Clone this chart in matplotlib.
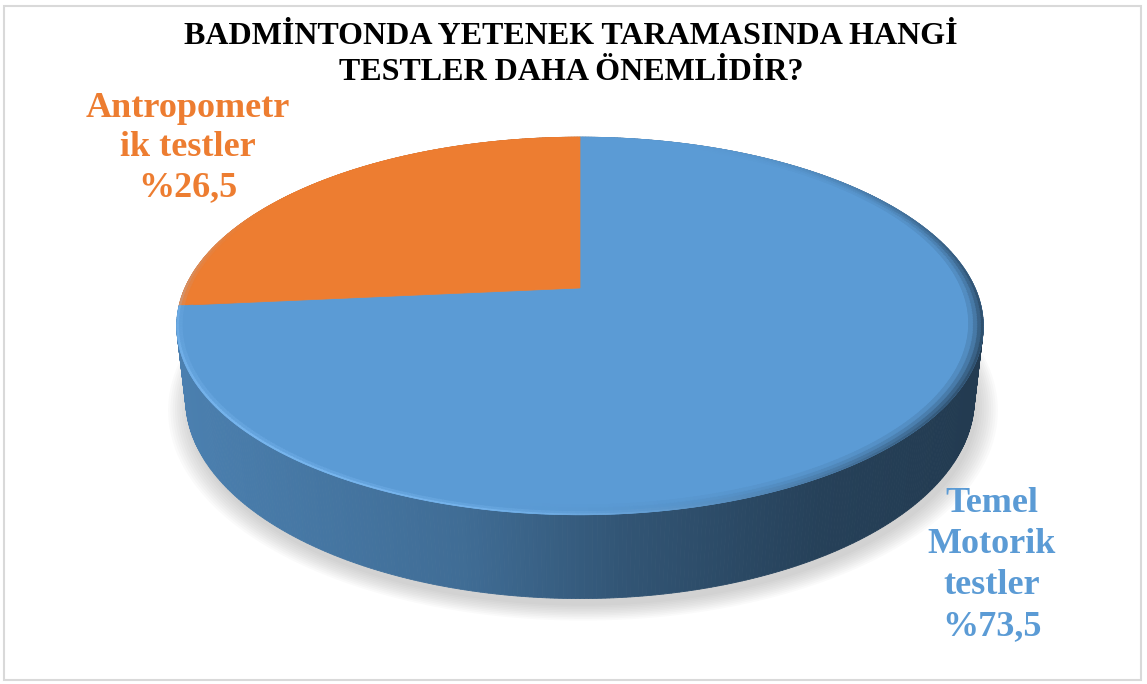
import numpy as np
import matplotlib
matplotlib.use("Agg")
import matplotlib.pyplot as plt
from matplotlib.patches import Polygon, Rectangle
from matplotlib.colors import to_rgb

# ---------------------------------------------------------------------------
# data
# ---------------------------------------------------------------------------
TITLE = "BADMİNTONDA YETENEK TARAMASINDA HANGİ\nTESTLER DAHA ÖNEMLİDİR?"
CATEGORIES = ["Temel Motorik testler", "Antropometrik testler"]
SHARES = [73.5, 26.5]
LABELS = ["Temel\nMotorik\ntestler\n%73,5", "Antropometr\nik testler\n%26,5"]
COLORS = ["#5B9BD5", "#ED7D31"]

# ---------------------------------------------------------------------------
# layout of the 3-D pie (pixel space, perspective camera)
# ---------------------------------------------------------------------------
W, H = 1147, 684
CX, CY = 580, 288
TILT = np.radians(27.3)
DIST = 4.42
FOCAL = 1746
DEPTH = 0.21
C, S = np.cos(TILT), np.sin(TILT)


def project(theta, r=1.0, y=0.0):
    x3 = r * np.cos(theta)
    z3 = -r * np.sin(theta)
    v = y * C - z3 * S
    w = DIST - (z3 * C + y * S)
    return CX + FOCAL * x3 / w, CY - FOCAL * v / w


def shade(col, k):
    return tuple(np.clip(np.array(to_rgb(col)) * k, 0, 1))


def mix(col, other, t):
    a, b = np.array(to_rgb(col)), np.array(to_rgb(other))
    return tuple(np.clip(a + (b - a) * t, 0, 1))


# slice boundaries, clockwise from 12 o'clock (Excel style)
fracs = np.array(SHARES) / np.sum(SHARES)
starts = np.radians(90) - 2 * np.pi * np.concatenate([[0], np.cumsum(fracs)[:-1]])
ends = starts - 2 * np.pi * fracs


def slice_of(theta):
    for i, (a, b) in enumerate(zip(starts, ends)):
        t = a - ((a - theta) % (2 * np.pi))
        if b <= t <= a:
            return i
    return 0


fig = plt.figure(figsize=(W / 100, H / 100), dpi=100)
ax = fig.add_axes([0, 0, 1, 1])
ax.set_xlim(0, W)
ax.set_ylim(H, 0)
ax.axis("off")

# soft shadow under the disc
tt = np.linspace(0, 2 * np.pi, 361)
for s in np.linspace(1.0, 1.05, 10):
    bx, by = project(tt, r=s, y=-DEPTH)
    ax.add_patch(Polygon(np.column_stack([bx + 3, by + 7]), closed=True,
                         facecolor="#808080", edgecolor="none", alpha=0.04))

# side wall, back to front
step = np.radians(0.5)
thetas = np.arange(0, 2 * np.pi, step)
order = np.argsort(np.sin(thetas))[::-1]
xmin, xmax = project(np.pi)[0], project(0.0)[0]
for th in thetas[order]:
    x1, y1 = project(th)
    x2, y2 = project(th + step)
    x3, y3 = project(th + step, y=-DEPTH)
    x4, y4 = project(th, y=-DEPTH)
    t = (x1 - xmin) / (xmax - xmin)
    k = np.interp(t, [0, 0.35, 0.55, 0.8, 1], [0.82, 0.70, 0.55, 0.42, 0.38])
    col = shade(COLORS[slice_of(th + step / 2)], k)
    ax.add_patch(Polygon([(x1, y1), (x2, y2), (x3, y3), (x4, y4)], closed=True,
                         facecolor=col, edgecolor=col, lw=0.6))

# top face
for i, (a, b) in enumerate(zip(starts, ends)):
    arc = np.linspace(a, b, 300)
    px, py = project(arc)
    pts = np.vstack([[CX, CY], np.column_stack([px, py])])
    ax.add_patch(Polygon(pts, closed=True, facecolor=COLORS[i],
                         edgecolor=COLORS[i], lw=0.5))

# soft bevel on the rim of the top face: dark on the right, bright lip at front-left
rings = [(1.0, 0.994, 1.0, 1.0), (0.994, 0.985, 0.35, 0.75),
         (0.985, 0.975, 0.0, 0.45), (0.975, 0.965, 0.0, 0.2)]
for th in thetas:
    col = COLORS[slice_of(th + step / 2)]
    light = max(0.0, np.cos(th - np.radians(235))) ** 1.5
    dark = max(0.0, np.cos(th - np.radians(345))) ** 2
    for r_out, r_in, s_light, s_dark in rings:
        c = mix(col, "#8cc8ff", 0.6 * light * s_light)
        c = mix(c, shade(col, 0.42), 0.85 * dark * s_dark)
        x1, y1 = project(th, r_out)
        x2, y2 = project(th + step, r_out)
        x3, y3 = project(th + step, r_in)
        x4, y4 = project(th, r_in)
        ax.add_patch(Polygon([(x1, y1), (x2, y2), (x3, y3), (x4, y4)], closed=True,
                             facecolor=c, edgecolor=c, lw=0.5))

# texts
serif = ["Liberation Serif", "DejaVu Serif"]
ax.text(571, 22, TITLE, ha="center", va="top", fontsize=23, fontweight="bold",
        family=serif, linespacing=1.32, color="black")
ax.text(992, 487, LABELS[0], ha="center", va="top", fontsize=26, fontweight="bold",
        family=serif, linespacing=1.32, color=COLORS[0])
ax.text(188, 92, LABELS[1], ha="center", va="top", fontsize=26, fontweight="bold",
        family=serif, linespacing=1.26, color=COLORS[1])

# chart frame
fig.add_artist(Rectangle((4 / W, 4 / H), 1137 / W, 674 / H, transform=fig.transFigure,
                         fill=False, edgecolor="#d9d9d9", lw=1.5))

fig.savefig("out.png", dpi=100)
